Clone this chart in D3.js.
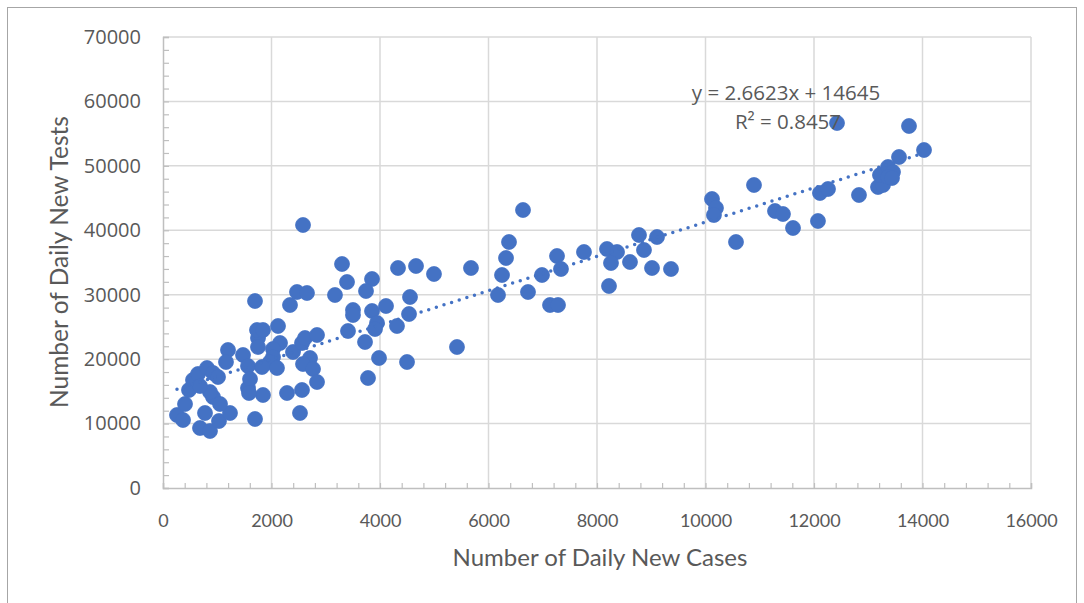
<!DOCTYPE html>
<html>
<head>
<meta charset="utf-8">
<script src="https://cdn.jsdelivr.net/npm/d3@7"></script>
<style>
  body { margin: 0; background: #fff; }
</style>
</head>
<body>
<svg id="chart" width="1084" height="603"></svg>
<script>
// daily new cases (x) / daily new tests (y)
const dailyCases = [258, 369, 406, 479, 553, 645, 811, 922, 1014, 682, 866, 774, 922, 1032, 1235, 1051, 866, 1198, 1161, 1475,
  1567, 1696, 1567, 1604, 1751, 1843, 1733, 1843, 1751, 1585, 1696, 2341, 2470, 2654, 3170, 2120, 2157, 2028, 2028, 1972,
  2101, 2286, 2562, 2396, 2562, 2618, 2839, 2710, 2581, 2765, 2839, 2525, 2581, 3300, 3392, 3853, 3742, 4332, 4664, 4995,
  4553, 4111, 4535, 3502, 3502, 3853, 3945, 3908, 4313, 3410, 3724, 5419, 3982, 4498, 3779, 6636, 6378, 6323, 6249, 6175,
  5677, 6728, 6986, 7263, 7336, 7134, 7281, 7760, 8184, 8369, 8258, 8608, 8221, 8774, 8866, 9106, 9014, 9364, 10120, 10193,
  10156, 10562, 10894, 11281, 11428, 11613, 12073, 12110, 12258, 12424, 12829, 13180, 13272, 13216, 13364, 13456, 13364, 13438, 13567, 13751,
  14028, 682, 1825];
const dailyTests = [11330, 10554, 13038, 15211, 16763, 17694, 18625, 17849, 17228, 9313, 8847, 11641, 14124, 10399, 11641, 13038, 14900, 21419, 19556, 20643,
  18936, 10709, 15521, 16918, 23282, 14435, 24523, 24523, 21885, 14745, 29024, 28403, 30421, 30266, 29956, 25144, 22505, 21574, 20333, 19556,
  18625, 14745, 15211, 21109, 22505, 23282, 23747, 20177, 19246, 18470, 16452, 11641, 40820, 34767, 31973, 32439, 30576, 34146, 34457, 33215,
  29645, 28248, 27006, 27627, 26851, 27472, 25610, 24678, 25144, 24368, 22661, 21885, 20177, 19556, 17073, 43148, 38182, 35698, 33060, 29956,
  34146, 30421, 33060, 36009, 33991, 28403, 28403, 36630, 37095, 36630, 34922, 35077, 31352, 39268, 36940, 38958, 34146, 33991, 44856, 43459,
  42372, 38182, 47029, 42993, 42527, 40355, 41441, 45787, 46407, 56652, 45476, 46718, 47029, 48581, 49822, 49046, 48270, 48115, 51375, 56186,
  52461, 15832, 18780];

const xTicks = [0, 2000, 4000, 6000, 8000, 10000, 12000, 14000, 16000];
const yTicks = [0, 10000, 20000, 30000, 40000, 50000, 60000, 70000];

// linear trendline shown on the chart
const slope = 2.6623;
const intercept = 14645;
const rSquared = 0.8457;

const blue = "#4472C4";
const textGrey = "#595959";

const svg = d3.select("#chart");

const x = d3.scaleLinear().domain([0, 16000]).range([163, 1031]);
const y = d3.scaleLinear().domain([0, 70000]).range([488, 37]);

// chart frame
svg.append("rect")
  .attr("x", 7.5).attr("y", 7.5)
  .attr("width", 1069).attr("height", 620)
  .attr("fill", "none")
  .attr("stroke", "#a6a6a6")
  .attr("stroke-width", 1);

// grid
svg.append("g")
  .selectAll("line")
  .data(xTicks.slice(1))
  .join("line")
  .attr("x1", (d) => x(d)).attr("x2", (d) => x(d))
  .attr("y1", y(70000)).attr("y2", y(0))
  .attr("stroke", "#d9d9d9")
  .attr("stroke-width", 1.5);

svg.append("g")
  .selectAll("line")
  .data(yTicks.slice(1))
  .join("line")
  .attr("x1", x(0)).attr("x2", x(16000))
  .attr("y1", (d) => y(d)).attr("y2", (d) => y(d))
  .attr("stroke", "#d9d9d9")
  .attr("stroke-width", 1.5);

// minor ticks, pointing into the plot
const yMinor = svg.append("g")
  .attr("transform", `translate(${x(0)},0)`)
  .call(d3.axisRight(y).tickValues(d3.range(0, 70001, 2000)).tickSize(6).tickFormat(""));
const xMinor = svg.append("g")
  .attr("transform", `translate(0,${y(0)})`)
  .call(d3.axisTop(x).tickValues(d3.range(0, 16001, 400)).tickSize(5).tickFormat(""));
[yMinor, xMinor].forEach((g) => {
  g.selectAll("line").attr("stroke", "#bfbfbf").attr("stroke-width", 1.2);
  g.select(".domain").attr("stroke", "#bfbfbf").attr("stroke-width", 1.5);
});

// tick labels
const yLabels = svg.append("g")
  .attr("transform", `translate(${x(0)},0)`)
  .call(d3.axisLeft(y).tickValues(yTicks).tickSize(0).tickPadding(22).tickFormat(d3.format("d")));
yLabels.select(".domain").remove();
yLabels.selectAll("text")
  .attr("fill", textGrey)
  .style("font-family", "'Open Sans', sans-serif")
  .style("font-size", "20px");

const xLabels = svg.append("g")
  .attr("transform", `translate(0,${y(0)})`)
  .call(d3.axisBottom(x).tickValues(xTicks).tickSize(0).tickPadding(26).tickFormat(d3.format("d")));
xLabels.select(".domain").remove();
xLabels.selectAll("text")
  .attr("fill", textGrey)
  .style("font-family", "Lato, sans-serif")
  .style("font-size", "18px");

// points
svg.append("g")
  .selectAll("circle")
  .data(dailyCases.map((c, i) => ({ c: c, t: dailyTests[i] })))
  .join("circle")
  .attr("cx", (d) => x(d.c))
  .attr("cy", (d) => y(d.t))
  .attr("r", 7.5)
  .attr("fill", blue)
  .attr("stroke", blue)
  .attr("stroke-width", 0.75);

// dotted trendline across the data range
const xMin = d3.min(dailyCases);
const xMax = d3.max(dailyCases);
svg.append("line")
  .attr("x1", x(xMin)).attr("y1", y(slope * xMin + intercept))
  .attr("x2", x(xMax)).attr("y2", y(slope * xMax + intercept))
  .attr("stroke", blue)
  .attr("stroke-width", 3.5)
  .attr("stroke-linecap", "round")
  .attr("stroke-dasharray", "0 8");

// equation label
const eq = svg.append("text")
  .attr("x", 786).attr("y", 100)
  .attr("text-anchor", "middle")
  .attr("fill", textGrey)
  .style("font-family", "'Open Sans', sans-serif")
  .style("font-size", "20.5px");
eq.append("tspan").text(`y = ${slope}x + ${intercept}`);
eq.append("tspan").attr("x", 788).attr("dy", 29).text(`R² = ${rSquared}`);

// axis titles
svg.append("text")
  .attr("x", 600).attr("y", 566)
  .attr("text-anchor", "middle")
  .attr("fill", textGrey)
  .style("font-family", "Lato, sans-serif")
  .style("font-size", "24px")
  .text("Number of Daily New Cases");

svg.append("text")
  .attr("transform", "translate(68,262) rotate(-90)")
  .attr("text-anchor", "middle")
  .attr("fill", textGrey)
  .style("font-family", "Lato, sans-serif")
  .style("font-size", "24.5px")
  .text("Number of Daily New Tests");
</script>
</body>
</html>
